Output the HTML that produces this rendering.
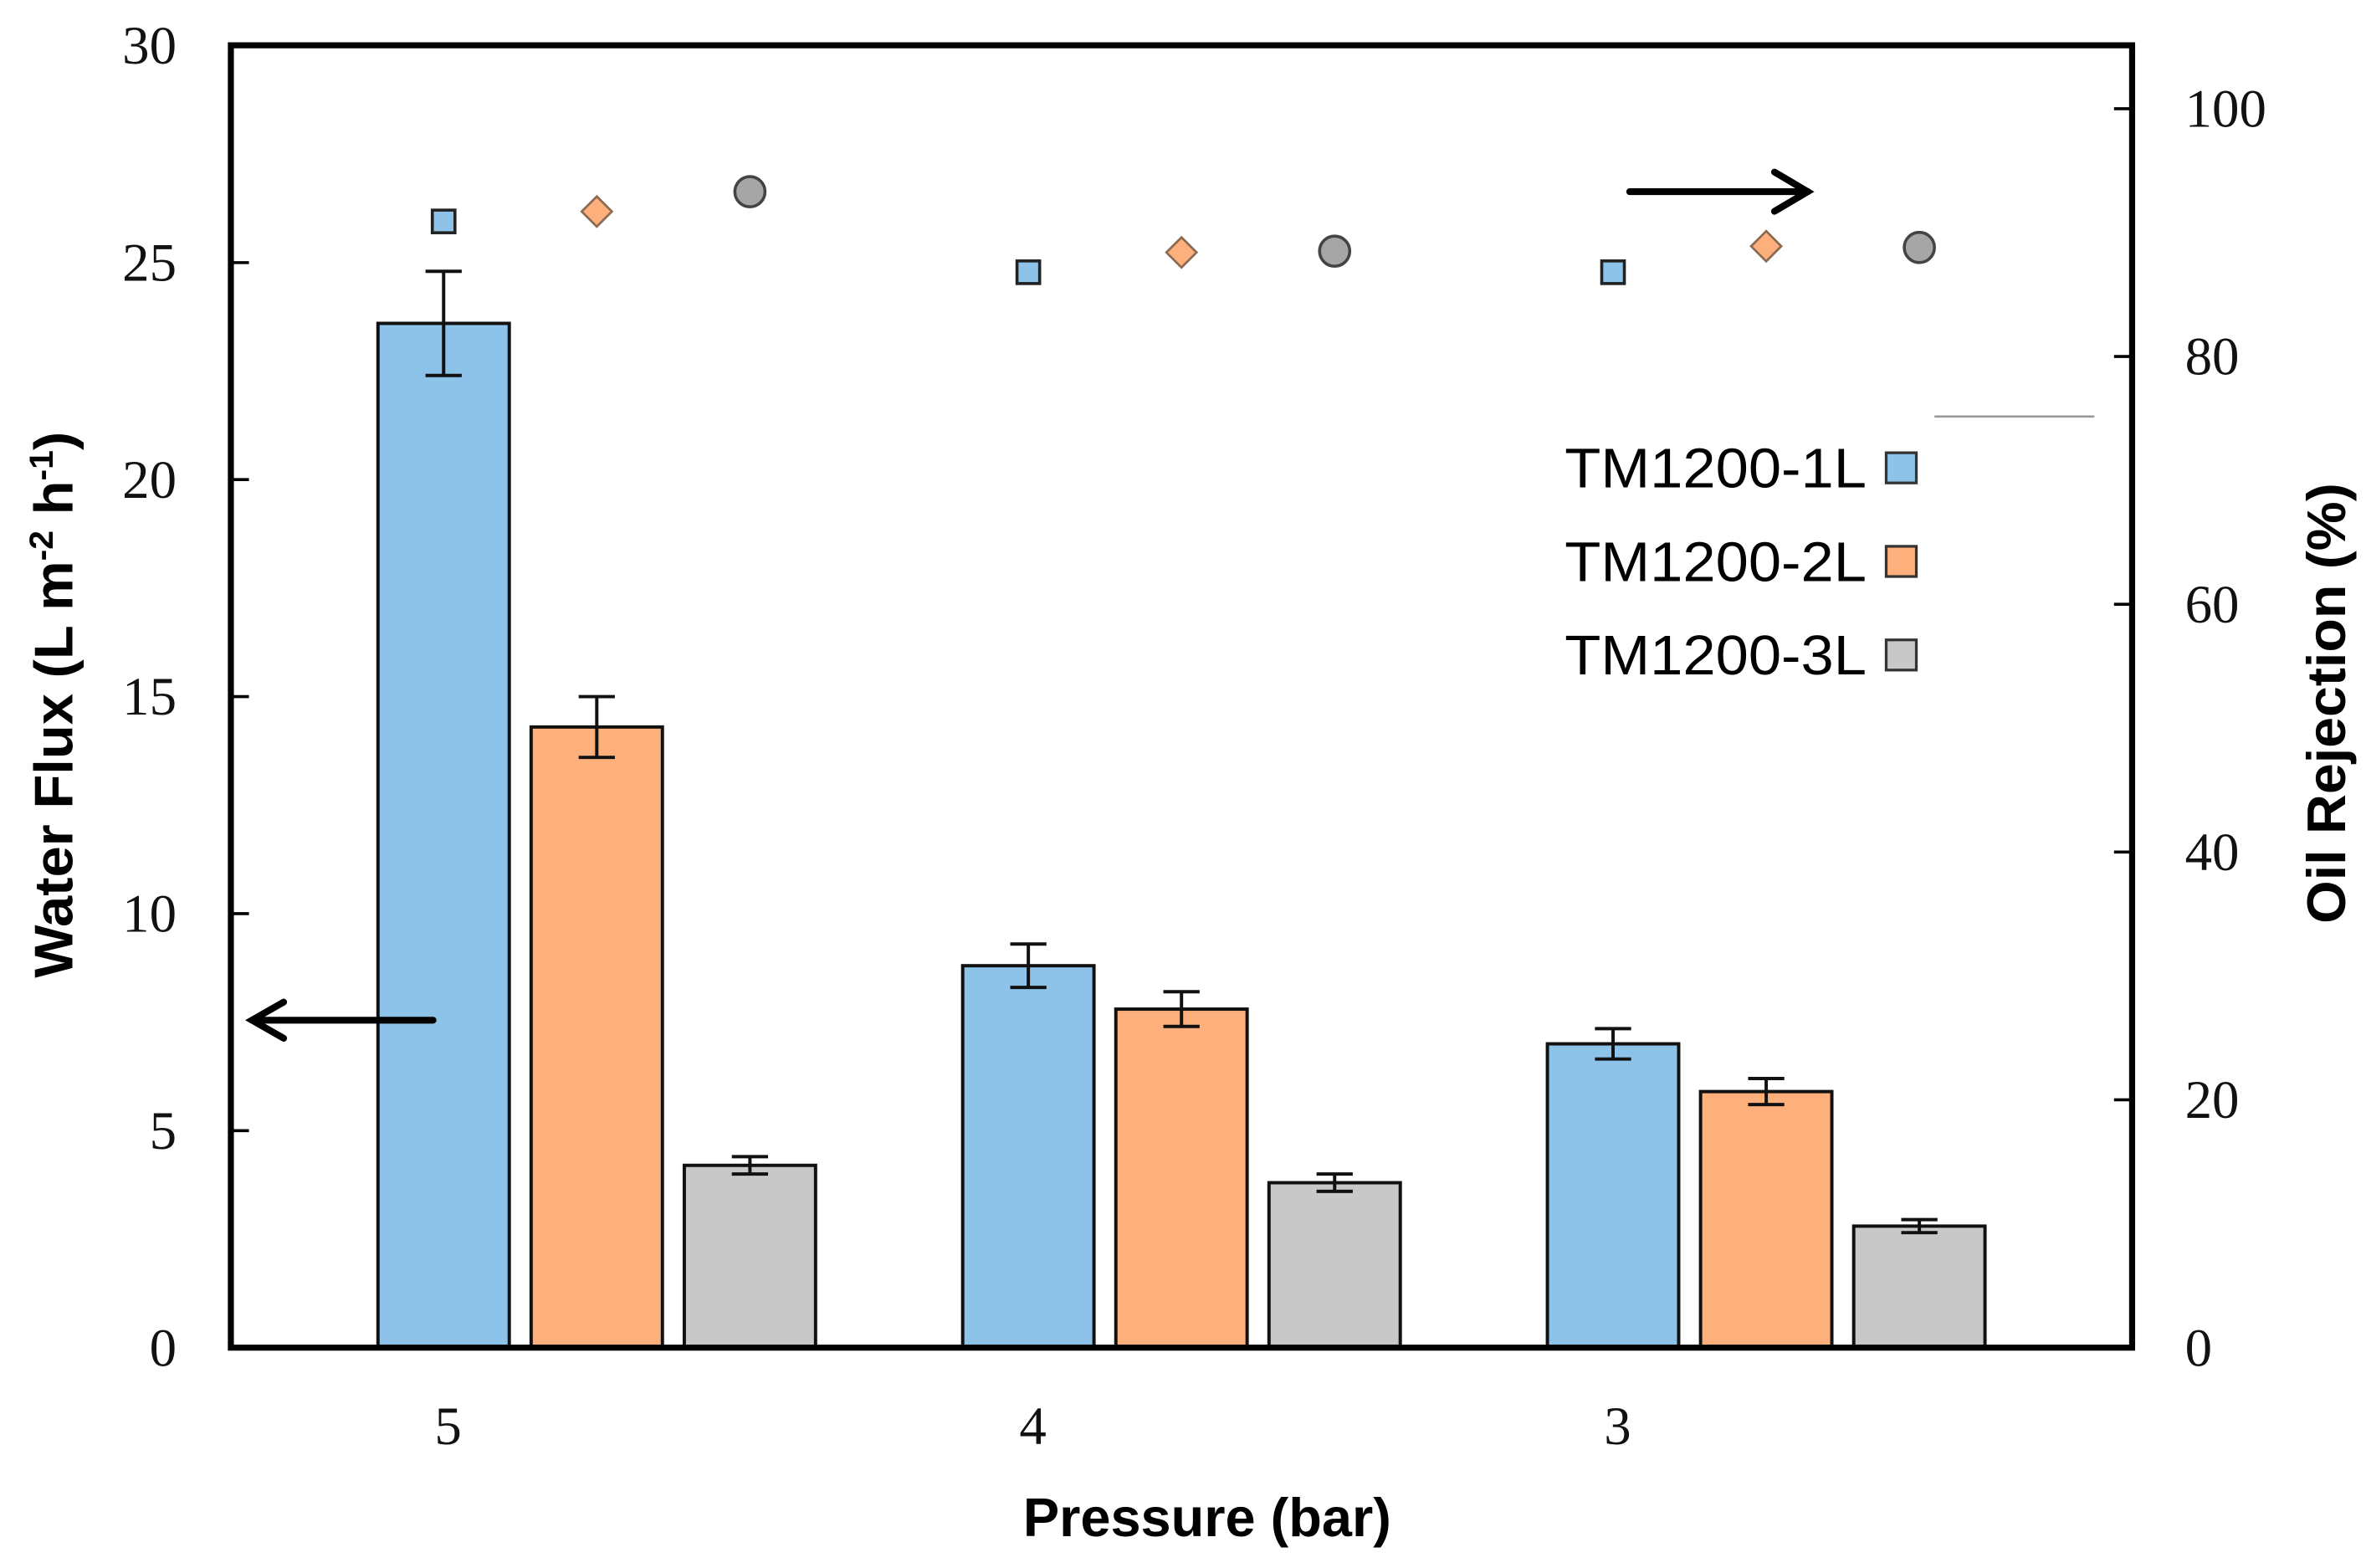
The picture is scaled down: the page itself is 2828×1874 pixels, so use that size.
<!DOCTYPE html>
<html><head><meta charset="utf-8">
<style>
html,body{margin:0;padding:0;background:#fff;}
svg{display:block;}
.tick{font-family:"Liberation Serif",serif;font-size:36px;fill:#111;}
.ttl{font-family:"Liberation Sans",sans-serif;font-weight:bold;font-size:36px;fill:#000;}
.leg{font-family:"Liberation Sans",sans-serif;font-size:37px;fill:#000;}
</style></head>
<body>
<svg id="chart" width="2828" height="1874" viewBox="0 0 1568 1039" xmlns="http://www.w3.org/2000/svg">
<g id="bars"></g>
<g id="marks"></g>
<rect x="153" y="30" width="1260" height="863" fill="none" stroke="#000" stroke-width="4"/>
<g id="axes"></g>
<text class="ttl" x="800" y="1018" text-anchor="middle" textLength="244" lengthAdjust="spacingAndGlyphs">Pressure (bar)</text>
<text class="ttl" transform="translate(48,467) rotate(-90)" text-anchor="middle" textLength="362" lengthAdjust="spacingAndGlyphs">Water Flux (L m<tspan font-size="22" dy="-13">-2</tspan><tspan dy="13"> h</tspan><tspan font-size="22" dy="-13">-1</tspan><tspan dy="13">)</tspan></text>
<text class="ttl" transform="translate(1554,466) rotate(-90)" text-anchor="middle" textLength="292" lengthAdjust="spacingAndGlyphs">Oil Rejection (%)</text>
<line x1="1282" y1="276" x2="1388" y2="276" stroke="#999" stroke-width="1.5"/>
<g stroke="#000" stroke-width="4.5" fill="none" stroke-linecap="round">
<line x1="287" y1="676" x2="168" y2="676"/><polyline points="188,664 167,676 188,688"/>
</g>
<g stroke="#000" stroke-width="4.5" fill="none" stroke-linecap="round">
<line x1="1080" y1="127" x2="1198" y2="127"/><polyline points="1176,114 1198,127 1176,140"/>
</g>
<g id="legend"></g>
</svg>
<script>
const categories = ["5", "4", "3"];
const seriesNames = ["TM1200-1L", "TM1200-2L", "TM1200-3L"];
const flux1L = [23.6, 8.8, 7.0];
const flux2L = [14.3, 7.8, 5.9];
const flux3L = [4.2, 3.8, 2.8];
const err1L = [1.2, 0.5, 0.35];
const err2L = [0.7, 0.4, 0.3];
const err3L = [0.2, 0.2, 0.15];
const rej1L = [90.9, 86.8, 86.8];
const rej2L = [91.7, 88.4, 88.9];
const rej3L = [93.3, 88.5, 88.8];
const leftTicks = [0, 5, 10, 15, 20, 25, 30];
const rightTicks = [0, 20, 40, 60, 80, 100];

const NS = "http://www.w3.org/2000/svg";
const fills = ["#8DC3E8", "#FDB07C", "#C8C8C8"];
const plotL = 153, plotR = 1413, plotB = 893;
const yL = v => plotB - v * 28.76;
const yR = v => plotB - v * 8.21;
const groupCenter = i => 294 + i * 387.5;
const barX = (i, s) => groupCenter(i) + s * 101.5;
const barW = 87;

function mk(tag, attrs, parent) {
  const e = document.createElementNS(NS, tag);
  for (const k in attrs) e.setAttribute(k, attrs[k]);
  parent.appendChild(e);
  return e;
}
const barsG = document.getElementById('bars');
const marksG = document.getElementById('marks');
const axesG = document.getElementById('axes');
const legG = document.getElementById('legend');
const fluxes = [flux1L, flux2L, flux3L];
const errs = [err1L, err2L, err3L];
const rejs = [rej1L, rej2L, rej3L];

categories.forEach((c, i) => {
  for (let s = 0; s < 3; s++) {
    const cx = barX(i, s), v = fluxes[s][i], e = errs[s][i];
    const r = mk('rect', {x: cx - barW / 2, y: yL(v), width: barW, height: plotB - yL(v), fill: fills[s], stroke: '#111', 'stroke-width': 2.2}, barsG);
    
    
    const eg = mk('g', {stroke: '#111', 'stroke-width': 2.2}, barsG);
    
    
    mk('line', {x1: cx, x2: cx, y1: yL(v + e), y2: yL(v - e)}, eg);
    mk('line', {x1: cx - 12, x2: cx + 12, y1: yL(v + e), y2: yL(v + e)}, eg);
    mk('line', {x1: cx - 12, x2: cx + 12, y1: yL(v - e), y2: yL(v - e)}, eg);
    const mx = cx, my = yR(rejs[s][i]);
    let m;
    if (s === 0) m = mk('rect', {x: mx - 7.5, y: my - 7.5, width: 15, height: 15, fill: fills[0], stroke: '#222', 'stroke-width': 2}, marksG);
    else if (s === 1) m = mk('polygon', {points: `${mx},${my-10} ${mx+10},${my} ${mx},${my+10} ${mx-10},${my}`, fill: fills[1], stroke: '#8a6a50', 'stroke-width': 1.5}, marksG);
    else m = mk('circle', {cx: mx, cy: my, r: 10, fill: '#A6A6A6', stroke: '#444', 'stroke-width': 2}, marksG);
    
    
  }
  const t = mk('text', {x: groupCenter(i) + 3, y: 957, 'text-anchor': 'middle', class: 'tick'}, axesG);
  t.textContent = c;
  
  
});

leftTicks.forEach(v => {
  const t = mk('text', {x: 117, y: yL(v) + 12, 'text-anchor': 'end', class: 'tick'}, axesG);
  t.textContent = v;
  
  
  const l = mk('line', {x1: plotL, x2: plotL + 12, y1: yL(v), y2: yL(v), stroke: '#000', 'stroke-width': 2}, axesG);
  
  
});
rightTicks.forEach(v => {
  const t = mk('text', {x: 1448, y: yR(v) + 12, 'text-anchor': 'start', class: 'tick'}, axesG);
  t.textContent = v;
  
  
  const l = mk('line', {x1: plotR - 12, x2: plotR, y1: yR(v), y2: yR(v), stroke: '#000', 'stroke-width': 2}, axesG);
  
  
});

seriesNames.forEach((n, s) => {
  const y = 310 + s * 62;
  const t = mk('text', {x: 1237, y: y + 13, 'text-anchor': 'end', class: 'leg', textLength: 200, lengthAdjust: 'spacingAndGlyphs'}, legG);
  t.textContent = n;
  
  
  const r = mk('rect', {x: 1250, y: y - 10, width: 20, height: 20, fill: fills[s], stroke: '#333', 'stroke-width': 1.8}, legG);
  
  
});
</script>
</body></html>
